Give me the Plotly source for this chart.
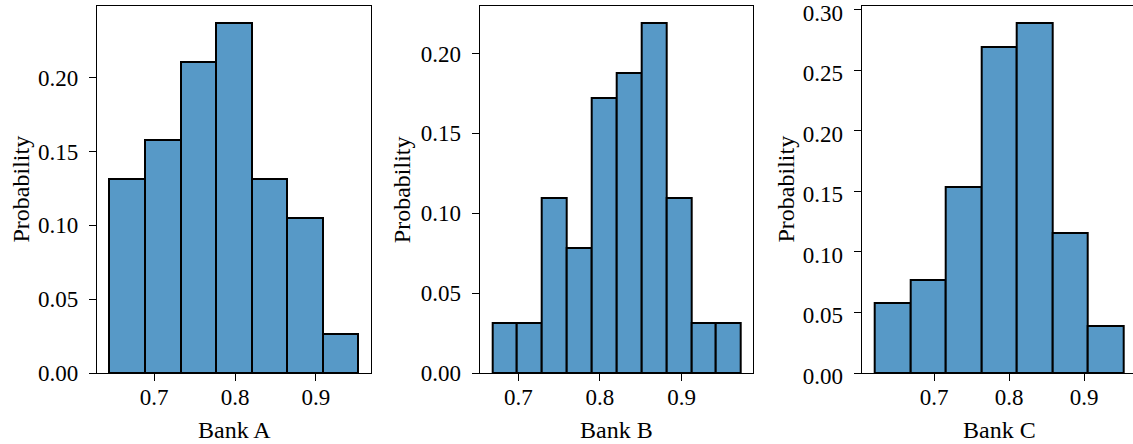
import numpy as np
import plotly.graph_objects as go

# ---- data ----
bank_a_edges = [0.6447, 0.6887, 0.7327, 0.7767, 0.8207, 0.8647, 0.9087, 0.9527]
bank_a_prob = [0.1316, 0.1579, 0.2105, 0.2368, 0.1316, 0.1053, 0.0263]

bank_b_edges = [0.6682, 0.6986, 0.7291, 0.7595, 0.7900, 0.8204, 0.8508, 0.8813, 0.9117, 0.9422, 0.9726]
bank_b_prob = [0.0313, 0.0313, 0.1094, 0.0781, 0.1719, 0.1875, 0.2188, 0.1094, 0.0313, 0.0313]

bank_c_edges = [0.6209, 0.6683, 0.7156, 0.7630, 0.8103, 0.8577, 0.9051, 0.9524]
bank_c_prob = [0.0577, 0.0769, 0.1538, 0.2692, 0.2885, 0.1154, 0.0385]

bank_labels = ["Bank A", "Bank B", "Bank C"]
y_label = "Probability"
x_tickvals = [0.7, 0.8, 0.9]

FONT = "Liberation Serif"
BAR_FILL = "rgb(87,153,199)"

panels = [
    dict(edges=bank_a_edges, prob=bank_a_prob, xdom=[97/1133, 371/1133],
         xrange=[0.6293, 0.9682], yrange=[0, 0.2486], yticks=[0, 0.05, 0.10, 0.15, 0.20],
         ylab_x=20/1133, xlab_x=234/1133, mirror_y=True, yshift=0),
    dict(edges=bank_b_edges, prob=bank_b_prob, xdom=[479.7/1133, 753/1133],
         xrange=[0.6528, 0.9873], yrange=[0, 0.2297], yticks=[0, 0.05, 0.10, 0.15, 0.20],
         ylab_x=401.7/1133, xlab_x=616.4/1133, mirror_y=True, yshift=0),
    dict(edges=bank_c_edges, prob=bank_c_prob, xdom=[861.7/1133, 1.0],
         xrange=[0.6036, 0.9653], yrange=[0, 0.3029], yticks=[0, 0.05, 0.10, 0.15, 0.20, 0.25, 0.30],
         ylab_x=785/1133, xlab_x=999/1133, mirror_y=False, yshift=3),
]

ydom = [1 - 373/444, 1 - 6/444]

fig = go.Figure()
layout = dict(
    template="none",
    width=1133, height=444,
    margin=dict(l=0, r=0, t=0, b=0, pad=0),
    paper_bgcolor="white", plot_bgcolor="white",
    showlegend=False,
    font=dict(family=FONT, size=23, color="black"),
    bargap=0,
)
annotations = []

for i, p in enumerate(panels):
    n = i + 1
    xa = "x" if n == 1 else f"x{n}"
    ya = "y" if n == 1 else f"y{n}"
    edges = np.array(p["edges"])
    centers = (edges[:-1] + edges[1:]) / 2
    widths = np.diff(edges)
    fig.add_trace(go.Bar(
        x=centers, y=p["prob"], width=widths,
        marker=dict(color=BAR_FILL, line=dict(color="black", width=2)),
        xaxis=xa, yaxis=ya, hoverinfo="x+y",
    ))
    xkey = "xaxis" if n == 1 else f"xaxis{n}"
    ykey = "yaxis" if n == 1 else f"yaxis{n}"
    layout[xkey] = dict(
        domain=p["xdom"], anchor=ya, range=p["xrange"], automargin=False,
        tickvals=x_tickvals, tickformat=".1f",
        showline=True, linecolor="black", linewidth=1.3, mirror=True,
        ticks="outside", ticklen=7, tickwidth=1.3, tickcolor="black",
        showgrid=False, zeroline=False, ticklabelstandoff=-4,
        ticklabeloverflow="allow",
        tickfont=dict(family=FONT, size=23, color="black"),
    )
    layout[ykey] = dict(
        domain=ydom, anchor=xa, range=p["yrange"], automargin=False,
        tickvals=p["yticks"], tickformat=".2f",
        showline=True, linecolor="black", linewidth=1.3, mirror=p["mirror_y"],
        ticks="outside", ticklen=7, tickwidth=1.3, tickcolor="black",
        showgrid=False, zeroline=False, ticklabelstandoff=6,
        ticklabelshift=p["yshift"],
        ticklabeloverflow="allow",
        tickfont=dict(family=FONT, size=23, color="black"),
    )
    annotations.append(dict(
        text=y_label, xref="paper", yref="paper", x=p["ylab_x"], y=(ydom[0] + ydom[1]) / 2,
        xanchor="center", yanchor="middle", textangle=-90, showarrow=False,
        font=dict(family=FONT, size=24, color="black"),
    ))
    annotations.append(dict(
        text=bank_labels[i], xref="paper", yref="paper", x=p["xlab_x"], y=1 - 430/444,
        xanchor="center", yanchor="middle", showarrow=False,
        font=dict(family=FONT, size=24, color="black"),
    ))

layout["annotations"] = annotations
fig.update_layout(**layout)
fig.write_html(
    "out.html",
    config={"displayModeBar": False},
    post_script="document.body.style.margin='0';document.body.style.overflow='hidden';",
)
